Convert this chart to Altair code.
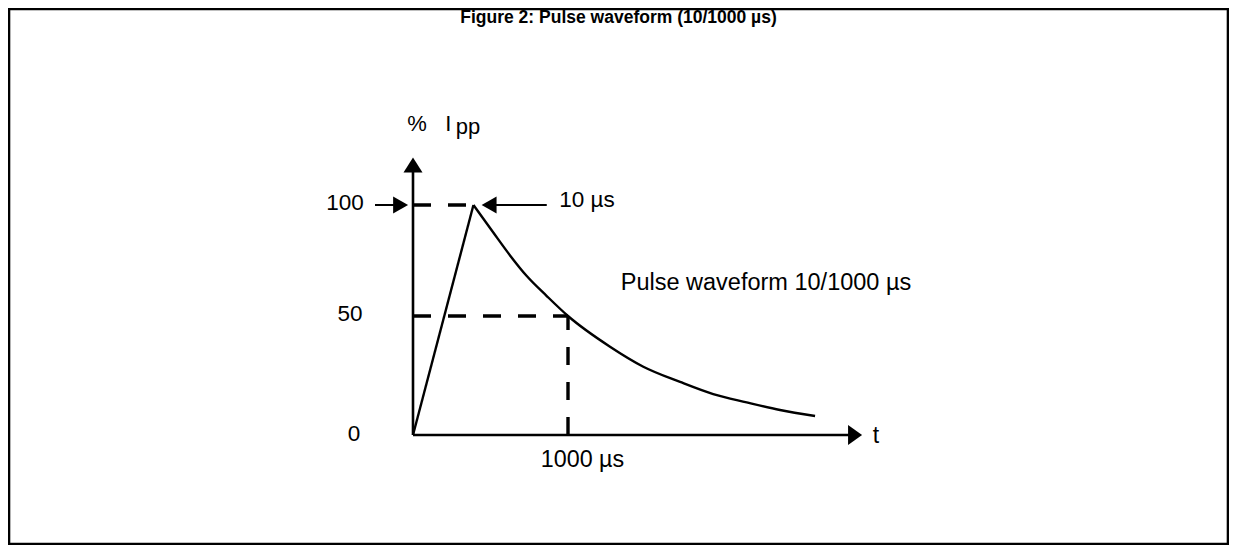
import altair as alt
import pandas as pd

# Schematic time units (1000 = the "1000 µs" mark), values in % Ipp
rise_t = [0, 390]
rise_v = [0, 100]
decay_t = [390, 518, 626, 734, 863, 1000, 1271, 1486, 1723, 1937, 2153, 2368, 2594]
decay_v = [100, 87.6, 77.3, 68.0, 59.0, 50, 37.1, 28.7, 22.3, 17.2, 13.7, 10.5, 8.0]

# solid segments: axes, arrow shafts, rising edge
seg_t = [0, 0, -245, 491, rise_t[0]]
seg_v = [0, 0, 100, 100, rise_v[0]]
seg_t2 = [2852, 0, -80, 863, rise_t[1]]
seg_v2 = [0, 118, 100, 100, rise_v[1]]
seg_w = [2.6, 2.6, 2.0, 2.0, 2.4]

# dashed guides (100 % level, 50 % level, 1000 µs)
dash_t = [0, 0, 1000]
dash_v = [100, 50, 0]
dash_t2 = [390, 1000, 1000]
dash_v2 = [100, 50, 50]

# arrowheads
head_t = [0, 2852, -80, 491]
head_v = [118, 0, 100, 100]
head_shape = ["M0,-0.79L-1,0.79L1,0.79Z", "M0.7,0L-0.7,-1L-0.7,1Z",
              "M0.88,0L-0.88,-1L-0.88,1Z", "M-0.88,0L0.88,-1L0.88,1Z"]
head_size = [361, 400, 289, 289]

# labels
lab_text = ["100", "50", "0", "10 µs", "1000 µs", "Pulse waveform 10/1000 µs", "t", "%", "I", "pp"]
lab_t = [-438.7, -406.5, -380.6, 1122.6, 1093.5, 2277.4, 2987, 25.8, 228, 355]
lab_v = [97.75, 48.0, -2.4, 99.2, -13.3, 61.7, -3.5, 133.3, 133.3, 132.0]
lab_size = [22.5, 22.5, 22.5, 22.5, 23.3, 23.5, 23, 22, 22, 22]

title_text = ["Figure 2: Pulse waveform (10/1000 µs)"]
title_t = [1325.8]
title_v = [182.0]

xs = alt.Scale(domain=[0, 1000], range=[404, 559], nice=False, zero=False)
ys = alt.Scale(domain=[0, 50, 100], range=[426, 307, 196], nice=False, zero=False)
X = lambda f: alt.X(f, type="quantitative", scale=xs, axis=None)
Y = lambda f: alt.Y(f, type="quantitative", scale=ys, axis=None)

seg = pd.DataFrame({"t": seg_t, "v": seg_v, "t2": seg_t2, "v2": seg_v2, "w": seg_w})
dash = pd.DataFrame({"t": dash_t, "v": dash_v, "t2": dash_t2, "v2": dash_v2})
decay = pd.DataFrame({"t": decay_t, "v": decay_v})
heads = pd.DataFrame({"t": head_t, "v": head_v, "shape": head_shape, "size": head_size})
labels = pd.DataFrame({"t": lab_t, "v": lab_v, "text": lab_text, "size": lab_size})
title = pd.DataFrame({"t": title_t, "v": title_v, "text": title_text})

solid_l = alt.Chart(seg).mark_rule(color="black", strokeCap="butt").encode(
    x=X("t"), y=Y("v"), x2="t2", y2="v2",
    strokeWidth=alt.StrokeWidth("w:Q", scale=None))
dash_l = alt.Chart(dash).mark_rule(color="black", strokeWidth=3.4, strokeDash=[18, 17],
                                   strokeCap="butt").encode(
    x=X("t"), y=Y("v"), x2="t2", y2="v2")
curve_l = alt.Chart(decay).mark_line(color="black", strokeWidth=2.4, interpolate="monotone").encode(
    x=X("t"), y=Y("v"))
head_l = alt.Chart(heads).mark_point(filled=True, color="black", opacity=1, strokeWidth=0).encode(
    x=X("t"), y=Y("v"),
    shape=alt.Shape("shape:N", scale=None),
    size=alt.Size("size:Q", scale=None))
text_l = alt.Chart(labels).mark_text(font="Liberation Sans", color="black", align="center",
                                     baseline="alphabetic").encode(
    x=X("t"), y=Y("v"), text="text:N",
    size=alt.Size("size:Q", scale=None))
title_l = alt.Chart(title).mark_text(font="Liberation Sans", fontWeight="bold", fontSize=17.5,
                                     color="black", align="center", baseline="alphabetic").encode(
    x=X("t"), y=Y("v"), text="text:N")

chart = alt.layer(dash_l, solid_l, curve_l, head_l, text_l, title_l).properties(
    width=1219, height=535,
    padding={"left": 1, "top": 1, "right": 1, "bottom": 1},
    autosize=alt.AutoSizeParams(type="none"),
    background="white",
).configure_view(stroke="black", strokeWidth=2.6)

chart.save("out.html", embed_options={"renderer": "svg", "actions": False})
